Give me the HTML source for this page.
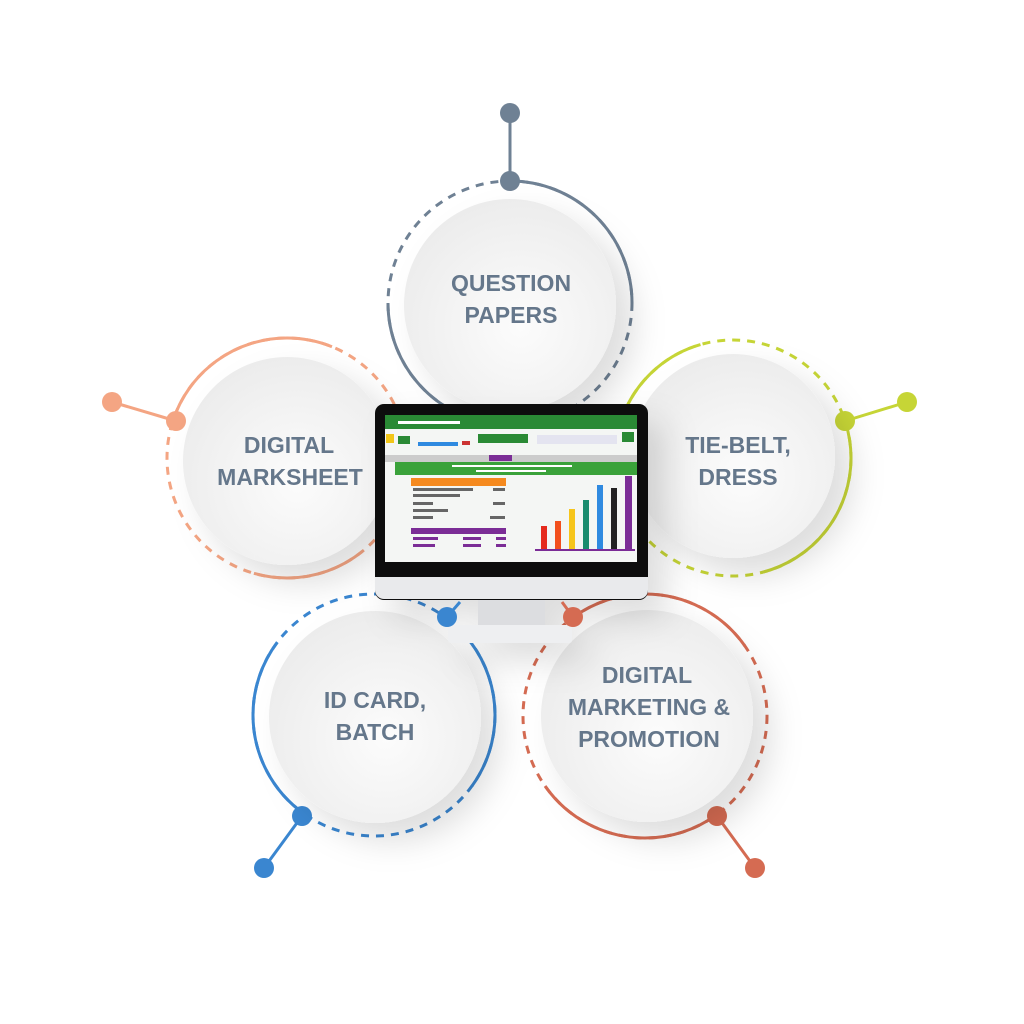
<!DOCTYPE html>
<html><head><meta charset="utf-8"><style>
html,body{margin:0;padding:0;background:#fff}
svg{display:block}
text{font-family:"Liberation Sans",sans-serif;font-weight:bold;font-size:23px;fill:#65778b;text-anchor:middle}
</style></head><body>
<svg width="1024" height="1024" viewBox="0 0 1024 1024" xmlns="http://www.w3.org/2000/svg">
<defs>
<filter id="sh" x="-50%" y="-50%" width="200%" height="200%">
<feDropShadow dx="18" dy="18" stdDeviation="16" flood-color="#000" flood-opacity="0.13"/>
</filter>
<radialGradient id="wg" cx="55%" cy="60%" r="65%">
<stop offset="0" stop-color="#fcfcfc"/><stop offset="1" stop-color="#ebebeb"/>
</radialGradient>
</defs>

<!-- TOP -->
<g stroke="#6f8194" stroke-width="3" fill="none">
<circle cx="510" cy="303" r="122" stroke-dasharray="8 7"/>
<circle cx="510" cy="303" r="122" pathLength="360" stroke-dasharray="90 270" stroke-dashoffset="-270"/>
<circle cx="510" cy="303" r="122" pathLength="360" stroke-dasharray="90 270" stroke-dashoffset="-90"/>
<line x1="510" y1="113" x2="510" y2="181"/>
</g>
<circle cx="510" cy="113" r="10" fill="#6f8194"/><circle cx="510" cy="181" r="10" fill="#6f8194"/>

<!-- LEFT -->
<g stroke="#f4a583" stroke-width="3" fill="none">
<circle cx="287" cy="458" r="120" stroke-dasharray="8 7"/>
<circle cx="287" cy="458" r="120" pathLength="360" stroke-dasharray="94 266" stroke-dashoffset="-198"/>
<circle cx="287" cy="458" r="120" pathLength="360" stroke-dasharray="55 305" stroke-dashoffset="-51"/>
<line x1="112" y1="402" x2="176" y2="421"/>
</g>
<circle cx="112" cy="402" r="10" fill="#f4a583"/><circle cx="176" cy="421" r="10" fill="#f4a583"/>

<!-- RIGHT -->
<g stroke="#c6d536" stroke-width="3" fill="none">
<circle cx="733" cy="458" r="118" stroke-dasharray="8 7"/>
<circle cx="733" cy="458" r="118" pathLength="360" stroke-dasharray="18 342" stroke-dashoffset="-342"/>
<circle cx="733" cy="458" r="118" pathLength="360" stroke-dasharray="76 284" stroke-dashoffset="0"/>
<circle cx="733" cy="458" r="118" pathLength="360" stroke-dasharray="48 312" stroke-dashoffset="-206"/>
<line x1="845" y1="421" x2="907" y2="402"/>
</g>
<circle cx="907" cy="402" r="10" fill="#c6d536"/><circle cx="845" cy="421" r="10" fill="#c6d536"/>

<!-- BOTTOM LEFT -->
<g stroke="#3a86d0" stroke-width="3" fill="none">
<circle cx="374" cy="715" r="121" stroke-dasharray="8 7"/>
<circle cx="374" cy="715" r="121" pathLength="360" stroke-dasharray="92 268" stroke-dashoffset="-125"/>
<circle cx="374" cy="715" r="121" pathLength="360" stroke-dasharray="37 323" stroke-dashoffset="-323"/>
<circle cx="374" cy="715" r="121" pathLength="360" stroke-dasharray="36 324" stroke-dashoffset="0"/>
<line x1="302" y1="816" x2="264" y2="868"/>
</g>
<circle cx="264" cy="868" r="10" fill="#3a86d0"/><circle cx="302" cy="816" r="10" fill="#3a86d0"/>

<!-- BOTTOM RIGHT -->
<g stroke="#d56b52" stroke-width="3" fill="none">
<circle cx="645" cy="716" r="122" stroke-dasharray="8 7"/>
<circle cx="645" cy="716" r="122" pathLength="360" stroke-dasharray="91 269" stroke-dashoffset="-234"/>
<circle cx="645" cy="716" r="122" pathLength="360" stroke-dasharray="91 269" stroke-dashoffset="-54"/>
<line x1="717" y1="816" x2="755" y2="868"/>
</g>
<circle cx="755" cy="868" r="10" fill="#d56b52"/><circle cx="717" cy="816" r="10" fill="#d56b52"/>

<!-- white discs -->
<g filter="url(#sh)" fill="url(#wg)">
<circle cx="510" cy="305" r="106"/>
<circle cx="287" cy="461" r="104"/>
<circle cx="733" cy="456" r="102"/>
<circle cx="375" cy="717" r="106"/>
<circle cx="647" cy="716" r="106"/>
</g>

<text x="511" y="291">QUESTION</text><text x="511" y="323">PAPERS</text>
<text x="289" y="453">DIGITAL</text><text x="290" y="485">MARKSHEET</text>
<text x="738" y="453">TIE-BELT,</text><text x="738" y="485">DRESS</text>
<text x="375" y="708">ID CARD,</text><text x="375" y="740">BATCH</text>
<text x="647" y="683">DIGITAL</text><text x="649" y="715">MARKETING &amp;</text><text x="649" y="747">PROMOTION</text>

<!-- monitor -->
<g filter="url(#sh)">
<rect x="478" y="598" width="67" height="32" fill="#dcdde0"/>
<rect x="448" y="625" width="124" height="18" rx="3" fill="#eeeff1"/>
<rect x="375" y="404" width="273" height="196" rx="9" fill="#111"/>
</g>
<path d="M375 577 H648 V590 a9 9 0 0 1 -9 9 H384 a9 9 0 0 1 -9 -9Z" fill="#e9eaec"/>
<rect x="385" y="415" width="252" height="147" fill="#f4f6f4"/>
<rect x="385" y="415" width="252" height="14" fill="#2a8a35"/>
<rect x="398" y="421" width="62" height="3" fill="#fff"/>
<rect x="386" y="434" width="8" height="9" fill="#f2c618"/>
<rect x="398" y="436" width="12" height="8" fill="#2a8a35"/>
<rect x="418" y="442" width="40" height="4" fill="#2f8ae0"/>
<rect x="462" y="441" width="8" height="4" fill="#c33"/>
<rect x="478" y="434" width="50" height="9" fill="#2a8a35"/>
<rect x="537" y="435" width="80" height="9" fill="#dde" opacity=".7"/>
<rect x="622" y="432" width="12" height="10" fill="#2a8a35"/>
<rect x="385" y="455" width="252" height="7" fill="#ccc"/>
<rect x="489" y="455" width="23" height="6" fill="#7b2d96"/>
<rect x="395" y="462" width="242" height="13" fill="#3aa23a"/>
<rect x="452" y="465" width="120" height="2" fill="#fff"/>
<rect x="476" y="470" width="70" height="2" fill="#fff"/>
<rect x="411" y="478" width="95" height="8" fill="#f58a1f"/>
<g fill="#666"><rect x="413" y="488" width="60" height="3"/><rect x="413" y="494" width="47" height="3"/><rect x="413" y="502" width="20" height="3"/><rect x="413" y="509" width="35" height="3"/><rect x="413" y="516" width="20" height="3"/><rect x="493" y="488" width="12" height="3"/><rect x="493" y="502" width="12" height="3"/><rect x="490" y="516" width="15" height="3"/></g>
<rect x="411" y="528" width="95" height="6" fill="#7b2d96"/>
<g fill="#7b2d96"><rect x="413" y="537" width="25" height="3"/><rect x="413" y="544" width="22" height="3"/><rect x="463" y="537" width="18" height="3"/><rect x="463" y="544" width="18" height="3"/><rect x="496" y="537" width="10" height="3"/><rect x="496" y="544" width="10" height="3"/></g>
<rect x="541" y="526" width="6" height="23" fill="#e52b1d"/>
<rect x="555" y="521" width="6" height="28" fill="#f2501d"/>
<rect x="569" y="509" width="6" height="40" fill="#f6c51b"/>
<rect x="583" y="500" width="6" height="49" fill="#1a8c6e"/>
<rect x="597" y="485" width="6" height="64" fill="#2f8ae0"/>
<rect x="611" y="488" width="6" height="61" fill="#222"/>
<rect x="625" y="476" width="7" height="73" fill="#7b2d96"/>
<rect x="535" y="549" width="100" height="2" fill="#7b2d96"/>

<!-- dots near monitor -->
<line x1="447" y1="617" x2="460" y2="602" stroke="#3a86d0" stroke-width="3"/>
<circle cx="447" cy="617" r="10" fill="#3a86d0"/>
<line x1="573" y1="617" x2="562" y2="602" stroke="#d56b52" stroke-width="3"/>
<circle cx="573" cy="617" r="10" fill="#d56b52"/>
</svg>
</body></html>
